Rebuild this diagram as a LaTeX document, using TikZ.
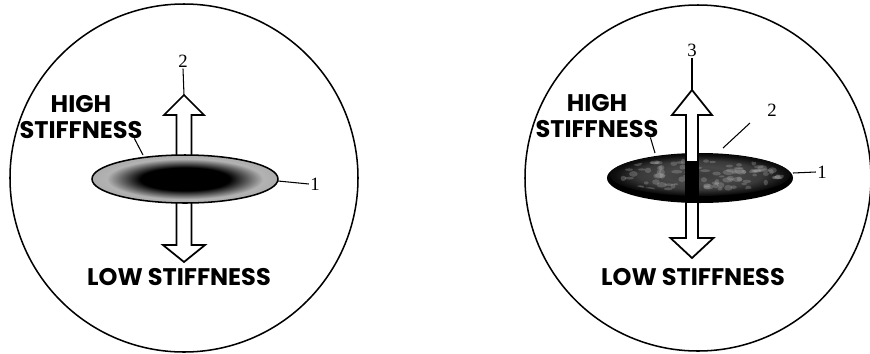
\documentclass[tikz,border=0pt]{standalone}
\usepackage{fontspec}
\setmainfont{Liberation Serif}
\newfontfamily\stifffont{Poppins}

\pgfdeclareradialshading{coreA}{\pgfpoint{0bp}{0bp}}{color(0bp)=(black); color(12bp)=(black); color(21bp)=(gray!60); color(25bp)=(gray!65); color(50bp)=(gray!65)}
\pgfdeclareradialshading{faceB}{\pgfpoint{0bp}{0bp}}{color(0bp)=(gray!45!black); color(10bp)=(gray!55!black); color(17bp)=(gray!45!black); color(24bp)=(gray!10!black); color(50bp)=(black)}

\tikzset{
  stiff/.style={font=\stifffont\bfseries\fontsize{20.5}{21.5}\selectfont, inner sep=0pt, align=center},
  num/.style={font=\fontsize{16}{16}\selectfont, inner sep=1pt},
  lead/.style={line width=0.9pt},
  fatarrow/.style={fill=white, draw=black, line width=1.5pt, line join=miter}
}

\begin{document}
\begin{tikzpicture}[x=0.03cm, y=0.03cm]
  \useasboundingbox (-184,-175) rectangle (686,178);

  % Sample 1
  \draw[line width=1.3pt] (0,0) circle (174);
  \draw[fatarrow] (-7.5,10) -- (-7.5,63) -- (-20,63) -- (0,83) -- (20,63) -- (7.5,63) -- (7.5,10) -- cycle;
  \draw[fatarrow] (-7.5,-10) -- (-7.5,-67) -- (-21,-67) -- (0,-84) -- (21,-67) -- (7.5,-67) -- (7.5,-10) -- cycle;
  \shade[shading=coreA] (1,-1) ellipse (93 and 24);
  \draw[line width=1.3pt] (1,-1) ellipse (93 and 24);

  \node[stiff] (highA) at (-103,61) {HIGH\\STIFFNESS};
  \node[stiff] (lowA) at (-5,-99) {LOW STIFFNESS};
  \node[num] (twoA) at (-1,117) {2};
  \node[num] (oneA) at (131,-6) {1};
  \coordinate (tipA) at (0,83);
  \coordinate (rimA) at (94,-3);
  \coordinate (topA) at (-41,23);
  \draw[lead] (twoA.south) -- (tipA);
  \draw[lead] (rimA) -- (oneA.west);
  \draw[lead] ([xshift=-0.25cm]highA.south east) -- (topA);

  % Sample 2
  \begin{scope}[shift={(514,0)}]
    \draw[line width=1.3pt] (0,0) circle (173);
    \draw[fatarrow] (-12,-10) -- (-12,-60) -- (-27.5,-60) -- (-6,-80) -- (15.5,-60) -- (0,-60) -- (0,-10) -- cycle;
    \fill[black] (2,0) ellipse (93 and 25);
    \shade[shading=faceB] (2,3) ellipse (90 and 21);
    \begin{scope}
      \clip (2,3) ellipse (84 and 17);
      \pgfmathsetseed{7}
      \foreach \k in {1,...,90}
        \fill[gray!60, opacity=0.3] ({2+rand*80},{3+rand*15}) ellipse ({2+rnd*4} and {1+rnd*2});
    \end{scope}
    \fill[black] (-13,16) rectangle (1,-25);
    \draw[fatarrow] (-12,16) -- (-12,63) -- (-26,63) -- (-6,88) -- (14,63) -- (0,63) -- (0,16) -- cycle;

    \node[stiff] (highB) at (-101,62) {HIGH\\STIFFNESS};
    \node[stiff] (lowB) at (-5,-99) {LOW STIFFNESS};
    \node[num] (threeB) at (-6,128) {3};
    \node[num] (twoB) at (74,68) {2};
    \node[num] (oneB) at (124,6) {1};
    \coordinate (tipB) at (-6,88);
    \coordinate (faceB0) at (52,55);
    \coordinate (faceB1) at (25,30);
    \coordinate (rimB) at (95,5);
    \coordinate (topB) at (-43,25);
    \draw[lead] (threeB.south) -- (tipB);
    \draw[lead] (faceB0) -- (faceB1);
    \draw[lead] (rimB) -- (oneB.west);
    \draw[lead] ([xshift=-0.25cm]highB.south east) -- (topB);
  \end{scope}
\end{tikzpicture}
\end{document}
